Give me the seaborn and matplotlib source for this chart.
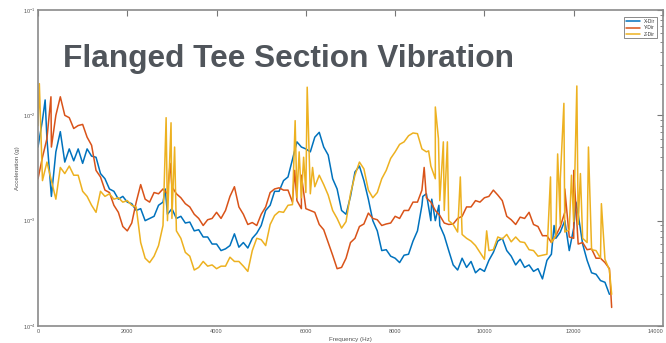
import numpy as np
import pandas as pd
import matplotlib
matplotlib.use("Agg")
import matplotlib.pyplot as plt
import matplotlib.ticker as mticker
import seaborn as sns

# ---------------- data (acceleration in units of 1e-3 g) ----------------
step_hz = 100
x_dir = [5.0, 9.0, 6.0, 1.7, 4.5, 7.0, 3.6, 4.8, 3.7, 4.8,
         3.5, 4.8, 4.1, 4.0, 2.8, 2.5, 2.0, 1.9, 1.6, 1.7,
         1.5, 1.45, 1.25, 1.3, 1.0, 1.05, 1.1, 1.4, 1.5, 1.15,
         1.3, 1.05, 1.1, 0.95, 0.97, 0.8, 0.82, 0.7, 0.7, 0.6,
         0.6, 0.52, 0.54, 0.58, 0.75, 0.56, 0.62, 0.55, 0.68, 0.76,
         0.9, 1.25, 1.4, 1.9, 1.9, 2.4, 2.6, 3.8, 5.6, 5.0,
         4.8, 4.5, 6.2, 6.9, 5.0, 4.2, 2.5, 2.0, 1.25, 1.15,
         1.7, 2.9, 3.3, 2.4, 1.6, 1.0, 0.8, 0.52, 0.53, 0.46,
         0.44, 0.4, 0.47, 0.48, 0.64, 0.8, 1.4, 1.8, 1.0, 1.0,
         0.9, 0.72, 0.52, 0.38, 0.34, 0.44, 0.36, 0.41, 0.32, 0.35,
         0.33, 0.42, 0.5, 0.64, 0.68, 0.52, 0.46, 0.38, 0.43, 0.36,
         0.38, 0.33, 0.35, 0.28, 0.42, 0.48, 0.68, 0.78, 1.0, 0.52,
         0.85, 1.15, 0.6, 0.42, 0.32, 0.31, 0.27, 0.26, 0.2]
y_dir = [2.5, 4.0, 6.0, 5.0, 10.0, 15.0, 10.0, 9.5, 7.5, 8.0,
         8.2, 6.2, 5.2, 3.0, 2.6, 1.95, 1.85, 1.4, 1.2, 0.88,
         0.8, 0.95, 1.5, 2.2, 1.6, 1.5, 1.85, 1.8, 2.0, 1.8,
         2.1, 1.8, 1.65, 1.45, 1.35, 1.15, 1.05, 0.9, 1.02, 1.05,
         1.2, 1.05, 1.25, 1.7, 2.1, 1.35, 1.15, 0.92, 0.96, 0.9,
         1.15, 1.35, 1.85, 2.0, 2.05, 1.95, 1.95, 1.5, 1.55, 1.3,
         1.3, 1.25, 1.2, 0.92, 0.82, 0.62, 0.47, 0.35, 0.36, 0.44,
         0.62, 0.68, 0.88, 0.93, 1.18, 1.05, 1.02, 0.9, 0.93, 0.95,
         1.1, 1.05, 1.25, 1.25, 1.5, 1.5, 1.95, 1.65, 1.5, 1.25,
         1.12, 0.95, 0.92, 0.93, 1.05, 1.1, 1.35, 1.35, 1.55, 1.5,
         1.65, 1.7, 1.95, 1.75, 1.55, 1.1, 1.02, 0.92, 1.08, 1.05,
         1.2, 0.92, 0.88, 0.72, 0.72, 0.62, 0.72, 0.88, 1.2, 0.7,
         0.68, 0.6, 0.62, 0.53, 0.54, 0.44, 0.44, 0.4, 0.35]
z_dir = [8.0, 2.4, 3.6, 2.4, 1.6, 3.2, 2.8, 3.3, 2.7, 2.7,
         1.9, 1.7, 1.4, 1.2, 1.9, 1.7, 1.8, 1.6, 1.65, 1.5,
         1.55, 1.4, 1.35, 0.62, 0.44, 0.4, 0.46, 0.58, 0.9, 1.0,
         1.05, 0.8, 0.68, 0.5, 0.46, 0.34, 0.36, 0.41, 0.37, 0.38,
         0.35, 0.37, 0.37, 0.45, 0.41, 0.41, 0.37, 0.33, 0.52, 0.68,
         0.66, 0.58, 0.92, 1.12, 1.22, 1.2, 1.4, 1.42, 1.65, 1.65,
         1.85, 1.8, 2.1, 2.7, 2.2, 1.75, 1.25, 1.05, 0.85, 0.98,
         1.8, 2.7, 3.6, 3.1, 1.95, 1.65, 1.85, 2.5, 3.0, 3.9,
         4.5, 5.3, 5.6, 6.4, 6.8, 6.7, 4.8, 4.5, 3.3, 2.5,
         1.55, 1.25, 1.0, 0.92, 0.78, 0.74, 0.68, 0.64, 0.58, 0.5,
         0.43, 0.52, 0.53, 0.7, 0.67, 0.74, 0.63, 0.7, 0.63, 0.62,
         0.53, 0.52, 0.46, 0.47, 0.48, 0.62, 0.72, 0.92, 0.78, 0.82,
         0.98, 0.92, 0.68, 0.62, 0.53, 0.52, 0.44, 0.43, 0.34]

# narrow peaks (and end points) between the 100 Hz samples
x_peak_hz = [160, 2850, 8620, 8820, 8980, 11560, 12050]
x_peak = [14.0, 2.0, 1.7, 1.6, 1.4, 0.9, 1.5]
y_peak_hz = [290, 2960, 5750, 5900, 8650, 11800, 12000, 12850]
y_peak = [15.0, 3.5, 3.0, 2.7, 3.2, 2.0, 3.0, 0.15]
z_peak_hz = [30, 2870, 2980, 3060, 5760, 5850, 5950, 6030, 6150, 8750, 8900,
             8970, 9080, 9170, 9460, 10050, 11480, 11640, 11700, 11780,
             11950, 12070, 12150, 12330, 12620, 12850]
z_peak = [20.0, 9.5, 8.5, 5.0, 8.9, 4.5, 4.0, 18.5, 3.2, 4.6, 12.0,
          6.0, 5.6, 5.6, 2.6, 0.8, 2.6, 4.3, 2.5, 13.0,
          2.7, 19.0, 2.8, 5.0, 1.45, 0.2]

series_names = ["X-Dir", "Y-Dir", "Z-Dir"]
colors = ["#0072BD", "#D95319", "#EDB120"]
x_ticks = [0, 2000, 4000, 6000, 8000, 10000, 12000, 14000]
title_text = "Flanged Tee Section Vibration"

# ---------------- build table ----------------
frames = []
for name, vals, phz, pv in zip(series_names, [x_dir, y_dir, z_dir],
                               [x_peak_hz, y_peak_hz, z_peak_hz],
                               [x_peak, y_peak, z_peak]):
    f = np.arange(len(vals)) * step_hz
    d = pd.DataFrame({"Frequency": np.concatenate([f, phz]),
                      "Acceleration": np.concatenate([vals, pv]) * 1e-3})
    d["Axis"] = name
    frames.append(d.sort_values("Frequency"))
df = pd.concat(frames, ignore_index=True)

# ---------------- plot ----------------
sns.set_style("white")
plt.rcParams["font.family"] = ["Liberation Sans", "DejaVu Sans"]

fig = plt.figure(figsize=(6.66, 3.43), dpi=100)
ax = fig.add_axes([38 / 666, 17 / 343, 625 / 666, 316 / 343])

sns.lineplot(data=df, x="Frequency", y="Acceleration", hue="Axis",
             palette=dict(zip(series_names, colors)), estimator=None,
             sort=True, lw=1.1, ax=ax, legend=True)

ax.set_yscale("log")
ax.set_xlim(0, 14000)
ax.set_ylim(1e-4, 1e-1)
ax.set_xticks(x_ticks)
ax.set_xticklabels([str(t) for t in x_ticks])
ax.get_xticklabels()[-1].set_horizontalalignment("right")
ax.yaxis.set_major_locator(mticker.LogLocator(base=10, numticks=10))
ax.yaxis.set_minor_locator(mticker.LogLocator(base=10, subs=np.arange(2, 10) * 1.0, numticks=10))
ax.yaxis.set_major_formatter(mticker.LogFormatterMathtext())
ax.yaxis.set_minor_formatter(mticker.NullFormatter())

tick_col = "#555555"
ax.tick_params(axis="both", which="both", direction="in", top=True, right=True,
               colors="#777777", labelcolor=tick_col, labelsize=4, pad=2)
ax.tick_params(axis="both", which="major", length=4, width=0.8)
ax.tick_params(axis="both", which="minor", length=2.5, width=0.6)
for s in ax.spines.values():
    s.set_color("#8a8a8a")
    s.set_linewidth(1.2)

ax.set_xlabel("Frequency (Hz)", fontsize=4.5, color=tick_col, labelpad=2)
ax.set_ylabel("Acceleration (g)", fontsize=4.5, color=tick_col, labelpad=2)

leg = ax.legend(loc="upper right", fontsize=3.5, frameon=True, fancybox=False,
                handlelength=3, borderpad=0.4, labelspacing=0.25,
                bbox_to_anchor=(0.995, 0.985))
leg.get_frame().set_edgecolor("#555555")
leg.get_frame().set_linewidth(0.6)
for t in leg.get_texts():
    t.set_color("#333333")

fig.text(63 / 666, 1 - 67 / 343, title_text, fontsize=22.8, fontweight="bold",
         color="#50555b", ha="left", va="baseline",
         family=["Liberation Sans", "DejaVu Sans"])

fig.savefig("out.png", dpi=100)
